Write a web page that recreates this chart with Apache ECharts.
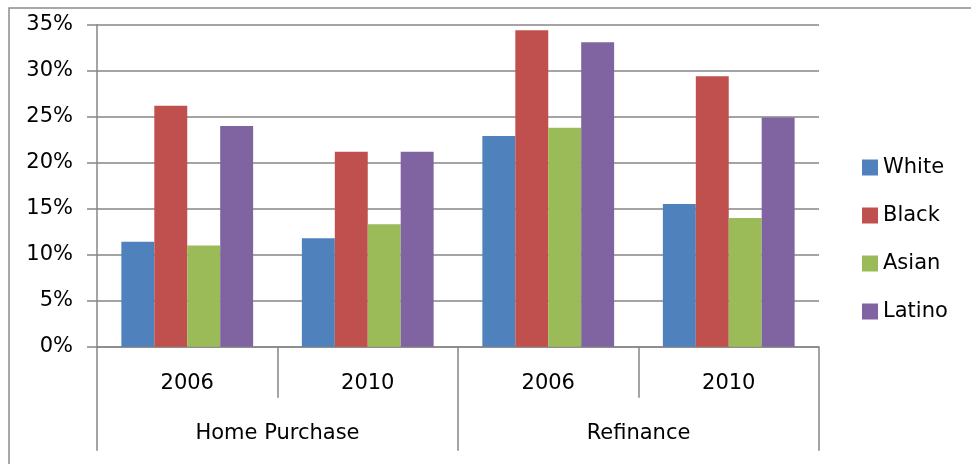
<!DOCTYPE html>
<html>
<head>
<meta charset="utf-8">
<script src="https://cdn.jsdelivr.net/npm/echarts@6/dist/echarts.min.js"></script>
<style>
  html, body { margin: 0; padding: 0; background: #fff; }
  #chart { width: 971px; height: 464px; }
</style>
</head>
<body>
<div id="chart"></div>
<script>
// Share of loans by borrower race, grouped by loan type and year
const years = ['2006', '2010', '2006', '2010'];
const loanTypes = ['Home Purchase', 'Refinance'];
const seriesNames = ['White', 'Black', 'Asian', 'Latino'];
const white  = [11.4, 11.8, 22.9, 15.5];
const black  = [26.2, 21.2, 34.4, 29.4];
const asian  = [11.0, 13.3, 23.8, 14.0];
const latino = [24.0, 21.2, 33.1, 24.9];
const yTicks = [0, 5, 10, 15, 20, 25, 30, 35];

const colors = ['#4F81BD', '#C0504D', '#9BBB59', '#8064A2'];
const values = [white, black, asian, latino];
const FONT = 'DejaVu Sans';
const FS = 21;
const LINE = '#868686';

const chart = echarts.init(document.getElementById('chart'));
chart.setOption({
  animation: false,
  color: colors,
  textStyle: { fontFamily: FONT },
  graphic: [{
    type: 'rect',
    shape: { x: 9, y: 8, width: 975, height: 470 },
    style: { fill: 'none', stroke: '#8c8c8c', lineWidth: 1.5 },
    silent: true
  }],
  legend: {
    orient: 'vertical',
    left: 862,
    top: 157,
    padding: 0,
    itemWidth: 16,
    itemHeight: 16,
    itemGap: 27,
    icon: 'rect',
    data: seriesNames,
    textStyle: { fontFamily: FONT, fontSize: FS, color: '#000' }
  },
  grid: { left: 97, right: 152, top: 24.7, bottom: 117.3, containLabel: false },
  xAxis: [{
    type: 'category',
    data: years,
    position: 'bottom',
    axisLine: { show: true, lineStyle: { color: LINE, width: 1.5 } },
    axisTick: { show: true, interval: 0, length: 51, lineStyle: { color: LINE, width: 1.5 } },
    axisLabel: { interval: 0, margin: 26, fontFamily: FONT, fontSize: FS, color: '#000' },
    splitLine: { show: false }
  }, {
    type: 'category',
    data: loanTypes,
    position: 'bottom',
    axisLine: { show: false },
    axisTick: { show: true, interval: 0, length: 104, lineStyle: { color: LINE, width: 1.5 } },
    axisLabel: { interval: 0, margin: 76, fontFamily: FONT, fontSize: FS, color: '#000' },
    splitLine: { show: false }
  }],
  yAxis: {
    type: 'value',
    min: yTicks[0],
    max: yTicks[yTicks.length - 1],
    interval: 5,
    axisLine: { show: true, lineStyle: { color: LINE, width: 1.5 } },
    axisTick: { show: true, length: 10, lineStyle: { color: LINE, width: 1.5 } },
    axisLabel: { margin: 24, fontFamily: FONT, fontSize: FS, color: '#000', formatter: v => v + '%' },
    splitLine: { show: true, lineStyle: { color: LINE, width: 1.5 } }
  },
  series: seriesNames.map((name, i) => ({
    name: name,
    type: 'bar',
    xAxisIndex: 0,
    data: values[i],
    barGap: '0%',
    barCategoryGap: '27%',
    itemStyle: { color: colors[i] }
  }))
});
</script>
</body>
</html>
